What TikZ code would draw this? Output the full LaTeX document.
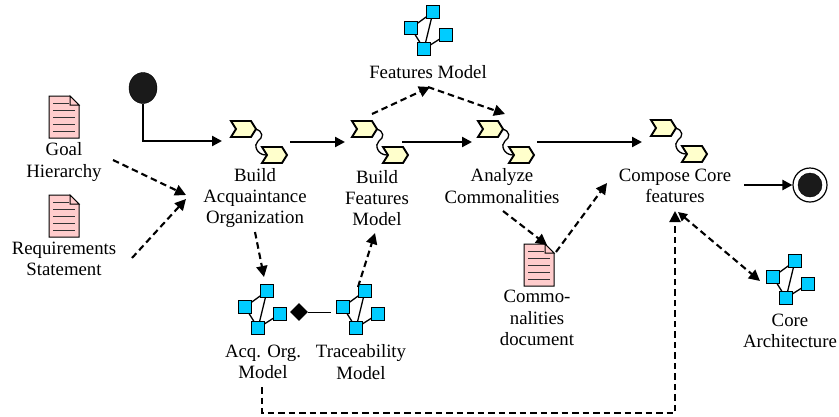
\documentclass[tikz,border=0pt]{standalone}
\usepackage{fontspec}
\setmainfont{Liberation Serif}
\usetikzlibrary{arrows.meta,shapes.geometric}
\definecolor{docred}{RGB}{255,204,204}
\definecolor{taskyel}{RGB}{255,255,204}
\definecolor{modcyan}{RGB}{0,204,255}
\definecolor{ink}{RGB}{26,26,26}
\tikzset{
  x=1pt,y=-1pt,
  lbl/.style={font=\fontsize{18.8}{21.3}\selectfont,align=center,inner sep=0pt,text=black},
  flow/.style={line width=2.3pt,-{Triangle[length=10pt,width=10pt]}},
  dep/.style={line width=2.1pt,dash pattern=on 6.5pt off 4pt,-{Triangle[length=11pt,width=11pt]}},
  depb/.style={line width=2.1pt,dash pattern=on 6.5pt off 4pt,{Triangle[length=9pt,width=9pt]}-{Triangle[length=11pt,width=11pt]}},
  sq/.style={draw=black,line width=1.5pt,fill=modcyan,minimum size=13pt,inner sep=0pt,rectangle},
  chev/.style={draw=black,line width=1.9pt,fill=taskyel,line join=miter},
  docshape/.pic={
    \fill[docred,draw=black,line width=1pt] (0,0) -- (21,0) -- (30,9) -- (30,42) -- (0,42) -- cycle;
    \draw[line width=1pt,fill=docred] (21,0) -- (21,9) -- (30,9) -- cycle;
    \foreach \yy in {7,14,21,28,35} \draw[black!80,line width=1pt] (4,\yy) -- (\ifnum\yy=7 20\else 26\fi,\yy);
  },
  taskshape/.pic={
    \draw[line width=1.3pt] (24,8) .. controls (33,10) and (32,17) .. (27,20) .. controls (22,24) and (26,34) .. (35,34);
    \draw[chev] (0,0) -- (20,0) -- (25,8) -- (20,16) -- (0,16) -- (5,8) -- cycle;
    \draw[chev] (31,26) -- (51,26) -- (56,34) -- (51,42) -- (31,42) -- (36,34) -- cycle;
  },
  modelshape/.pic={
    \draw[line width=1.3pt] (0,0) -- (22,-16) -- (13,21) -- (0,0) (13,21) -- (35,7);
    \node[sq] at (0,0) {}; \node[sq] at (22,-16) {};
    \node[sq] at (35,7) {}; \node[sq] at (13,21) {};
  }
}
\begin{document}
\begin{tikzpicture}
\useasboundingbox (0,0) rectangle (839,416);
% documents
\pic at (49,96) {docshape};
\pic at (49,195) {docshape};
\pic at (524,244) {docshape};
% tasks
\pic at (231,121) {taskshape};
\pic at (352,121) {taskshape};
\pic at (478,121) {taskshape};
\pic at (651,120) {taskshape};
% models
\pic at (411,28) {modelshape};
\pic at (245,307) {modelshape};
\pic at (343,307) {modelshape};
\pic at (773,277) {modelshape};
% labels
\node[lbl] (lgoal) at (64,162) {Goal\\Hierarchy};
\node[lbl] (lreq) at (64,259) {Requirements\\Statement};
\node[lbl] (lacq) at (255,198) {Build\\Acquaintance\\Organization};
\node[lbl] (lbfm) at (377,198) {Build\\Features\\Model};
\node[lbl] (lana) at (502,186) {Analyze\\Commonalities};
\node[lbl] (lcomp) at (675,186) {Compose Core\\features};
\node[lbl] (lfm) at (428,72) {Features Model};
\node[lbl] (laom) at (263,362) {Acq. Org.\\Model};
\node[lbl] (ltm) at (361,362) {Traceability\\Model};
\node[lbl] (lcd) at (537,318) {Commo-\\nalities\\document};
\node[lbl] (lca) at (790,331) {Core\\Architecture};
% start / end
\node[ellipse,fill=ink,draw=black,minimum width=28pt,minimum height=31pt,inner sep=0pt] (start) at (143,88) {};
\node[circle,draw=black,line width=1.2pt,fill=white,minimum size=34pt,inner sep=0pt] (endo) at (810,185) {};
\node[circle,draw=black,fill=ink,minimum size=24pt,inner sep=0pt] (endi) at (810,185) {};
% diamond
\node[diamond,fill=black,minimum width=18pt,minimum height=18pt,inner sep=0pt] (dia) at (299,312) {};
\coordinate (tmL) at (331,312);
\draw[line width=1pt] (dia.east) -- (tmL);
% flow points
\coordinate (a1) at (222,141);
\coordinate (b0) at (290,142); \coordinate (b1) at (345,142);
\coordinate (c0) at (402,142); \coordinate (c1) at (472,142);
\coordinate (d0) at (537,142); \coordinate (d1) at (642,142);
\coordinate (e0) at (744,185);
\draw[flow] (start.south) |- (a1);
\draw[flow] (b0) -- (b1);
\draw[flow] (c0) -- (c1);
\draw[flow] (d0) -- (d1);
\draw[flow] (e0) -- (endo.west);
% dependencies
\coordinate (g0) at (113,160); \coordinate (g1) at (186,195);
\coordinate (r0) at (132,258); \coordinate (r1) at (186,199);
\coordinate (o0) at (255,232); \coordinate (o1) at (264,277);
\coordinate (t0) at (358,287); \coordinate (t1) at (375,233);
\coordinate (f0) at (372,114); \coordinate (f1) at (430,87);
\coordinate (h0) at (428,87); \coordinate (h1) at (505,114);
\coordinate (k0) at (503,211); \coordinate (k1) at (547,245);
\coordinate (m0) at (556,252); \coordinate (m1) at (607,183);
\coordinate (n0) at (262,387); \coordinate (n1) at (262,413); \coordinate (n2) at (675,413); \coordinate (n3) at (675,211);
\coordinate (p0) at (678,212); \coordinate (p1) at (760,281);
\draw[dep] (g0) -- (g1);
\draw[dep] (r0) -- (r1);
\draw[dep] (o0) -- (o1);
\draw[dep] (t0) -- (t1);
\draw[dep] (f0) -- (f1);
\draw[dep] (h0) -- (h1);
\draw[dep] (k0) -- (k1);
\draw[dep] (m0) -- (m1);
\draw[dep] (n0) -- (n1) -- (n2) -- (n3);
\draw[depb] (p0) -- (p1);
\end{tikzpicture}
\end{document}
